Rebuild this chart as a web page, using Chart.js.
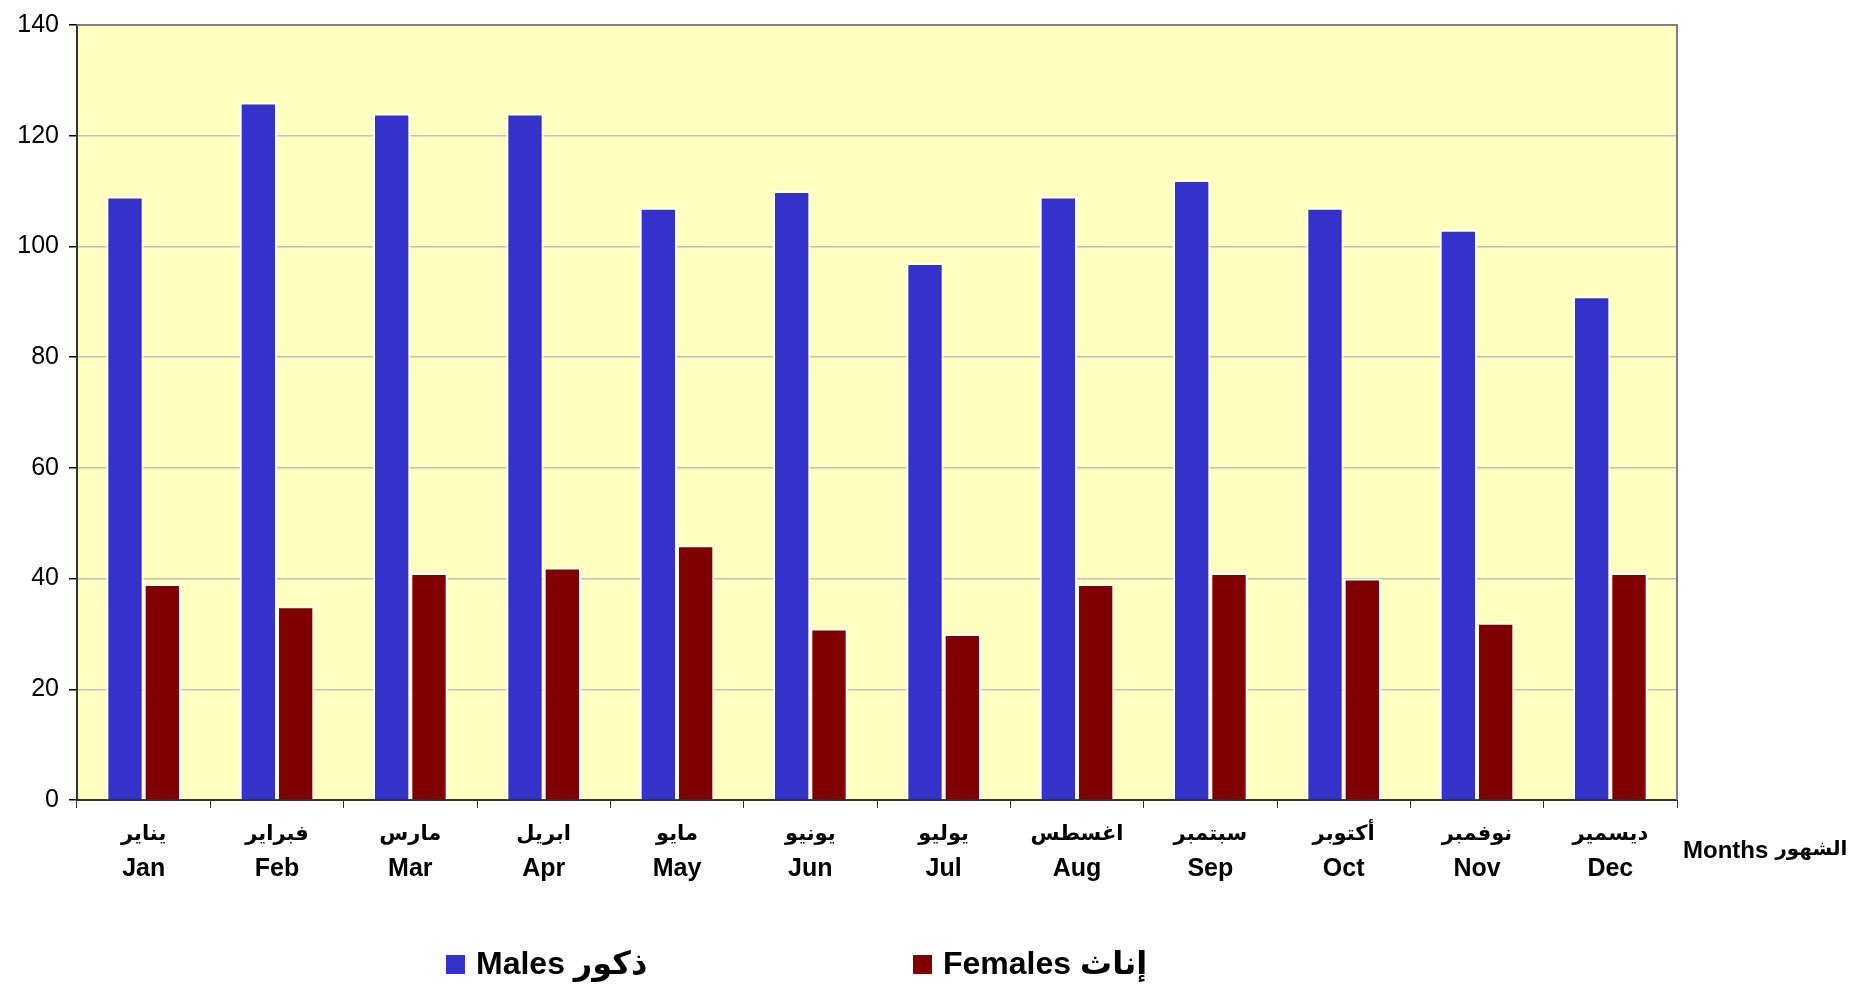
<!DOCTYPE html>
<html>
<head>
<meta charset="utf-8">
<script src="https://cdn.jsdelivr.net/npm/chart.js@4.4.1/dist/chart.umd.min.js"></script>
<style>
    html, body { margin: 0; padding: 0; background: #fff; }
    #wrap { width: 1861px; height: 984px; }
</style>
</head>
<body>
<div id="wrap"><canvas id="monthsChart" width="1861" height="984"></canvas></div>
<script>
const monthsEn = ["Jan", "Feb", "Mar", "Apr", "May", "Jun", "Jul", "Aug", "Sep", "Oct", "Nov", "Dec"];
const monthsAr = ["يناير", "فبراير", "مارس", "ابريل", "مايو", "يونيو", "يوليو", "اغسطس", "سبتمبر", "أكتوبر", "نوفمبر", "ديسمير"];
const males = [109, 126, 124, 124, 107, 110, 97, 109, 112, 107, 103, 91];
const females = [39, 35, 41, 42, 46, 31, 30, 39, 41, 40, 32, 41];
const yTicks = [0, 20, 40, 60, 80, 100, 120, 140];
const axisTitleEn = "Months";
const axisTitleAr = "الشهور";
const seriesNames = ["Males ذكور", "Females إناث"];

const FONT = "'Liberation Sans', Arial, 'DejaVu Sans', sans-serif";

// yellow plot area + grey frame like the excel chart
const plotArea = {
    id: "plotArea",
    beforeDraw(chart) {
        const a = chart.chartArea;
        const ctx = chart.ctx;
        ctx.save();
        ctx.fillStyle = "#FFFFC0";
        ctx.fillRect(a.left, a.top, a.right - a.left, a.bottom - a.top);
        ctx.restore();
    },
    beforeDatasetsDraw(chart) {
        const a = chart.chartArea;
        const ctx = chart.ctx;
        ctx.save();
        ctx.strokeStyle = "#808080";
        ctx.lineWidth = 2;
        ctx.beginPath();
        ctx.moveTo(a.left, a.top);
        ctx.lineTo(a.right, a.top);
        ctx.lineTo(a.right, a.bottom);
        ctx.stroke();
        ctx.restore();
    }
};

// arabic month names above the english ticks, legend and axis title
const extras = {
    id: "extras",
    afterDraw(chart) {
        const ctx = chart.ctx;
        const xScale = chart.scales.x;
        ctx.save();
        ctx.fillStyle = "#000";
        ctx.textBaseline = "middle";

        ctx.textAlign = "center";
        ctx.font = "bold 21px " + FONT;
        monthsAr.forEach((name, i) => {
            ctx.fillText(name, xScale.getPixelForTick(i), 834);
        });

        // axis title: english then arabic, with a gap
        ctx.textAlign = "left";
        ctx.font = "bold 24px " + FONT;
        const titleX = 1683;
        ctx.fillText(axisTitleEn, titleX, 851);
        const enW = ctx.measureText(axisTitleEn).width;
        ctx.font = "bold 20px " + FONT;
        ctx.fillText(axisTitleAr, titleX + enW + 7, 849);

        const items = [
            { x: 446, ds: chart.data.datasets[0] },
            { x: 913, ds: chart.data.datasets[1] }
        ];
        ctx.font = "bold 32px " + FONT;
        items.forEach(it => {
            ctx.fillStyle = it.ds.backgroundColor;
            ctx.fillRect(it.x, 955, 19, 19);
            ctx.fillStyle = "#000";
            ctx.fillText(it.ds.label, it.x + 30, 965);
        });
        ctx.restore();
    }
};

const ctx = document.getElementById("monthsChart").getContext("2d");
new Chart(ctx, {
    type: "bar",
    data: {
        labels: monthsEn,
        datasets: [{
            label: seriesNames[0],
            data: males,
            backgroundColor: "#3333CC",
            borderColor: "#FFFFFF",
            borderWidth: 2
        }, {
            label: seriesNames[1],
            data: females,
            backgroundColor: "#800000",
            borderColor: "#FFFFFF",
            borderWidth: 2
        }]
    },
    options: {
        responsive: false,
        animation: false,
        devicePixelRatio: 1,
        layout: { padding: { top: 24, right: 184, bottom: 0, left: 0 } },
        datasets: {
            bar: { categoryPercentage: 0.56, barPercentage: 1.0 }
        },
        scales: {
            x: {
                grid: {
                    offset: true,
                    drawOnChartArea: false,
                    drawTicks: true,
                    tickLength: 8,
                    color: "#333"
                },
                border: { display: true, color: "#333", width: 2 },
                ticks: {
                    color: "#000",
                    padding: 46,
                    maxRotation: 0,
                    autoSkip: false,
                    font: { family: FONT, size: 25, weight: "bold", lineHeight: 1.2 }
                },
                afterFit(scale) { scale.height = 184; }
            },
            y: {
                min: 0,
                max: 140,
                afterBuildTicks(scale) { scale.ticks = yTicks.map(v => ({ value: v })); },
                grid: {
                    color: "#C0C0C0",
                    lineWidth: 1.5,
                    tickColor: "#000",
                    tickLength: 8
                },
                border: { display: true, color: "#333", width: 2 },
                ticks: {
                    color: "#000",
                    padding: 10,
                    font: { family: FONT, size: 25 }
                },
                afterFit(scale) { scale.width = 77; }
            }
        },
        plugins: {
            legend: { display: false },
            tooltip: { enabled: false }
        }
    },
    plugins: [plotArea, extras]
});
</script>
</body>
</html>
